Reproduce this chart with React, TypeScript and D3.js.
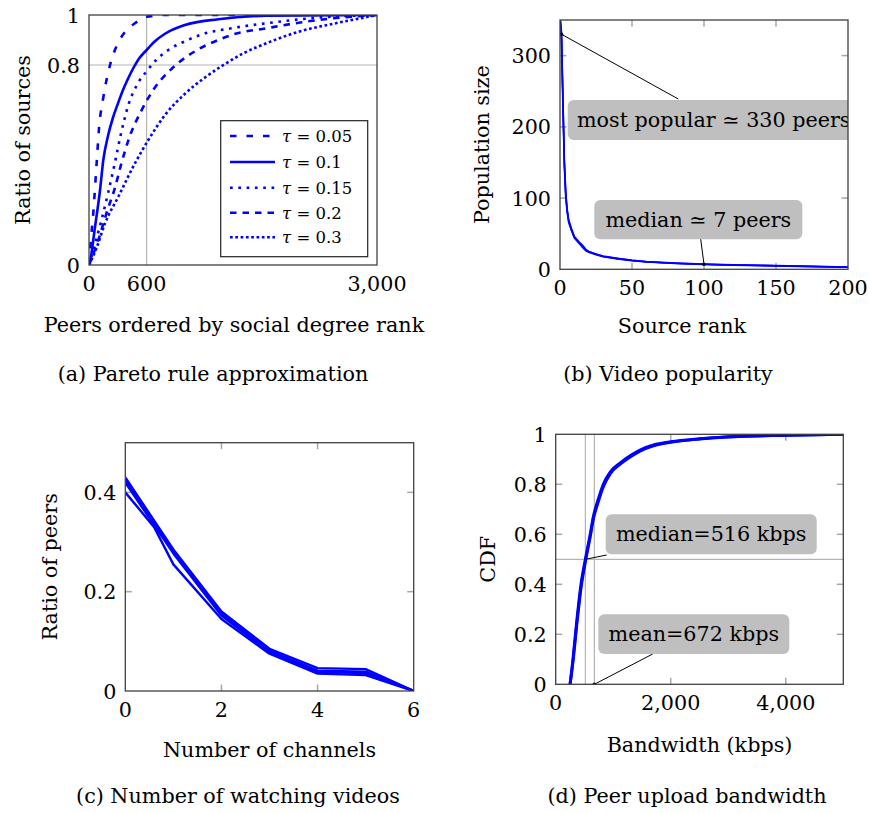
import React from 'react';
import * as d3 from 'd3';

const FONT = '"DejaVu Serif", serif';
const BLUE = '#0000ff';
const GRID = '#b4b4b4';
const FRAME = '#404040';
const TICK = '#a8a8a8';
const BOXFILL = '#bfbfbf';

// ---------- (a) Pareto rule approximation ----------
const paretoXTicks = [0, 600, 3000];
const paretoYTicks = [0, 0.8, 1];
const paretoTaus = ['0.05', '0.1', '0.15', '0.2', '0.3'];
const tau005: [number, number][] = [[0, 0], [20, 0.1], [45, 0.21], [80, 0.41], [105, 0.55], [149, 0.67], [219, 0.8], [260, 0.85], [305, 0.89], [380, 0.935], [479, 0.967], [600, 0.993], [800, 1], [3000, 1]];
const tau01: [number, number][] = [[0, 0], [10, 0.013], [62, 0.15], [115, 0.3], [149, 0.42], [200, 0.52], [250, 0.59], [305, 0.65], [354, 0.7], [400, 0.74], [458, 0.785], [520, 0.825], [600, 0.86], [687, 0.895], [792, 0.925], [1000, 0.96], [1347, 0.983], [1850, 0.997], [3000, 1]];
const tau015: [number, number][] = [[0, 0], [60, 0.08], [130, 0.18], [200, 0.29], [270, 0.41], [330, 0.52], [410, 0.64], [514, 0.73], [600, 0.775], [700, 0.82], [826, 0.86], [1000, 0.895], [1174, 0.922], [1500, 0.948], [1850, 0.967], [2400, 0.99], [3000, 1]];
const tau02: [number, number][] = [[0, 0], [97, 0.1], [184, 0.21], [271, 0.31], [340, 0.41], [420, 0.51], [549, 0.62], [687, 0.71], [861, 0.785], [1104, 0.855], [1347, 0.9], [1500, 0.922], [1851, 0.947], [2200, 0.97], [2545, 0.987], [3000, 1]];
const tau03: [number, number][] = [[0, 0], [80, 0.07], [167, 0.167], [305, 0.273], [479, 0.407], [618, 0.5], [792, 0.6], [1000, 0.685], [1208, 0.75], [1400, 0.8], [1600, 0.845], [1900, 0.895], [2200, 0.935], [2545, 0.965], [2800, 0.985], [3000, 1]];
const paretoSeries = [tau005, tau01, tau015, tau02, tau03];
const paretoDash = ['6.5,10', 'none', '2.7,5.6', '6.5,6', '2.7,2.6'];

// ---------- (b) Video popularity ----------
const rankXTicks = [0, 50, 100, 150, 200];
const popYTicks = [0, 100, 200, 300];
const sourceRank = [0, 1, 2, 3, 4, 5, 6, 8, 10, 13, 16, 18, 20, 25, 30, 40, 50, 60, 80, 100, 120, 150, 175, 200];
const popA = [355, 330, 240, 150, 105, 82, 68, 55, 45, 38, 32, 28, 25, 21, 18, 15, 12.5, 10.5, 8.5, 7, 6, 5, 4, 3];
const popB = [360, 325, 230, 145, 100, 80, 66, 54, 44, 37, 30, 26, 24, 20.5, 17.5, 14.5, 12, 10.2, 8.2, 6.8, 5.8, 4.8, 3.8, 2.8];
const popC = [350, 335, 245, 155, 108, 84, 70, 57, 46, 39, 33, 27, 24.5, 21.5, 18.5, 15.5, 12.8, 10.8, 8.7, 7.2, 6.2, 5.2, 4.2, 3.2];
const popularPeak = [1, 330];
const popularMedian = [100, 7];

// ---------- (c) Number of watching videos ----------
const chanXTicks = [0, 2, 4, 6];
const chanYTicks = [0, 0.2, 0.4];
const channels = [0, 1, 2, 3, 4, 5, 6];
const peersA = [0.43, 0.285, 0.16, 0.085, 0.046, 0.044, 0];
const peersB = [0.425, 0.28, 0.156, 0.081, 0.041, 0.039, 0];
const peersC = [0.42, 0.277, 0.152, 0.078, 0.038, 0.036, 0];
const channelsD = [0, 0.6, 1, 2, 3, 4, 5, 6];
const peersD = [0.40, 0.33, 0.255, 0.145, 0.075, 0.035, 0.032, 0];

// ---------- (d) Peer upload bandwidth ----------
const bwXTicks = [0, 2000, 4000];
const cdfYTicks = [0, 0.2, 0.4, 0.6, 0.8, 1];
const bandwidth = [250, 300, 365, 440, 516, 600, 654, 740, 828, 950, 1118, 1300, 1466, 1700, 2000, 2500, 3000, 4000, 5000];
const cdfA = [0, 0.1, 0.25, 0.4, 0.5, 0.6, 0.67, 0.74, 0.8, 0.85, 0.885, 0.915, 0.937, 0.957, 0.97, 0.982, 0.99, 0.996, 1];
const cdfB = [0, 0.09, 0.235, 0.385, 0.49, 0.59, 0.66, 0.73, 0.79, 0.843, 0.88, 0.91, 0.933, 0.954, 0.968, 0.981, 0.989, 0.996, 1];
const bwMedian = 516;
const bwMean = 672;

type Box = { l: number; r: number; t: number; b: number };
const boxA: Box = { l: 89, r: 377, t: 15, b: 265 };
const boxB: Box = { l: 560, r: 848, t: 20, b: 269.3 };
const boxC: Box = { l: 125.3, r: 413.7, t: 442.7, b: 691 };
const boxD: Box = { l: 555.7, r: 843.3, t: 434.3, b: 684.3 };

const FS = 20.7;

const Txt = (p: { x: number; y: number; children: any; anchor?: string; size?: number; rot?: boolean }) => (
  <text
    x={p.rot ? 0 : p.x}
    y={p.rot ? 0 : p.y}
    transform={p.rot ? `translate(${p.x},${p.y}) rotate(-90)` : undefined}
    textAnchor={p.anchor || 'middle'}
    fontSize={p.size || FS}
    fontFamily={FONT}
    fill="#000"
  >
    {p.children}
  </text>
);

function Clip({ box, id }: { box: Box; id: string }) {
  return (
    <defs>
      <clipPath id={id}>
        <rect x={box.l} y={box.t} width={box.r - box.l} height={box.b - box.t} />
      </clipPath>
    </defs>
  );
}

function Border({ box }: { box: Box }) {
  return <rect x={box.l} y={box.t} width={box.r - box.l} height={box.b - box.t} fill="none" stroke={FRAME} strokeWidth={1.3} />;
}

function InnerTicks({ box, xs, ys, xt, yt }: { box: Box; xs: any; ys: any; xt: number[]; yt: number[] }) {
  const L = 6.5;
  return (
    <g stroke={TICK} strokeWidth={1.5}>
      {xt.filter((v) => xs(v) > box.l + 1 && xs(v) < box.r - 1).map((v) => (
        <g key={'x' + v}>
          <line x1={xs(v)} x2={xs(v)} y1={box.b} y2={box.b - L} />
          <line x1={xs(v)} x2={xs(v)} y1={box.t} y2={box.t + L} />
        </g>
      ))}
      {yt.filter((v) => ys(v) > box.t + 1 && ys(v) < box.b - 1).map((v) => (
        <g key={'y' + v}>
          <line x1={box.l} x2={box.l + L} y1={ys(v)} y2={ys(v)} />
          <line x1={box.r} x2={box.r - L} y1={ys(v)} y2={ys(v)} />
        </g>
      ))}
    </g>
  );
}

function TickLabels({ box, xs, ys, xt, yt, xf, yf }: any) {
  return (
    <g>
      {xt.map((v: number) => (
        <Txt key={'xl' + v} x={xs(v)} y={box.b + 26}>{xf(v)}</Txt>
      ))}
      {yt.map((v: number) => (
        <Txt key={'yl' + v} x={box.l - 9} y={ys(v) + 7.5} anchor="end">{yf(v)}</Txt>
      ))}
    </g>
  );
}

export default function App() {
  const xa = d3.scaleLinear().domain([0, 3000]).range([boxA.l, boxA.r]);
  const ya = d3.scaleLinear().domain([0, 1]).range([boxA.b, boxA.t]);
  const xb = d3.scaleLinear().domain([0, 200]).range([boxB.l, boxB.r]);
  const yb = d3.scaleLinear().domain([0, 350]).range([boxB.b, boxB.t]);
  const xc = d3.scaleLinear().domain([0, 6]).range([boxC.l, boxC.r]);
  const yc = d3.scaleLinear().domain([0, 0.5]).range([boxC.b, boxC.t]);
  const xd = d3.scaleLinear().domain([0, 5000]).range([boxD.l, boxD.r]);
  const yd = d3.scaleLinear().domain([0, 1]).range([boxD.b, boxD.t]);

  const lineA = d3.line<[number, number]>().x((d) => xa(d[0])).y((d) => ya(d[1])).curve(d3.curveMonotoneX);
  const lineB = d3.line<[number, number]>().x((d) => xb(d[0])).y((d) => yb(d[1]));
  const lineC = d3.line<[number, number]>().x((d) => xc(d[0])).y((d) => yc(d[1]));
  const lineD = d3.line<[number, number]>().x((d) => xd(d[0])).y((d) => yd(d[1])).curve(d3.curveMonotoneX);

  const zip = (xs: number[], ys: number[]) => xs.map((x, i) => [x, ys[i]] as [number, number]);
  const comma = d3.format(',');
  const plain = (v: number) => String(v);

  const leg = { l: 220.7, t: 120.7, w: 147, h: 136 };
  const legRows = [136, 162, 187.7, 212.7, 237.3];

  return (
    <svg width={869} height={813} style={{ position: 'absolute', left: 0, top: 0, background: '#fff' }}>
      <Clip box={boxA} id="clipA" />
      <Clip box={boxB} id="clipB" />
      <Clip box={boxC} id="clipC" />
      <Clip box={boxD} id="clipD" />

      {/* ---------- (a) ---------- */}
      <g>
        <line x1={xa(600)} x2={xa(600)} y1={boxA.t} y2={boxA.b} stroke={GRID} strokeWidth={1.2} />
        <line x1={boxA.l} x2={boxA.r} y1={ya(0.8)} y2={ya(0.8)} stroke={GRID} strokeWidth={1.2} />
        <g clipPath="url(#clipA)">
          {paretoSeries.map((s, i) => (
            <path key={i} d={lineA(s) || ''} fill="none" stroke={BLUE} strokeWidth={2.6}
              strokeDasharray={paretoDash[i] === 'none' ? undefined : paretoDash[i]} />
          ))}
        </g>
        <Border box={boxA} />
        <rect x={leg.l} y={leg.t} width={leg.w} height={leg.h} fill="#fff" stroke="#222" strokeWidth={1.2} />
        {paretoTaus.map((t, i) => (
          <g key={t}>
            <line x1={230} x2={275} y1={legRows[i]} y2={legRows[i]} stroke={BLUE} strokeWidth={2.6}
              strokeDasharray={paretoDash[i] === 'none' ? undefined : paretoDash[i]} />
            <text x={282} y={legRows[i] + 6} fontSize={16.5} fontFamily={FONT}>
              <tspan fontStyle="italic">τ</tspan> = {t}
            </text>
          </g>
        ))}
        <TickLabels box={boxA} xs={xa} ys={ya} xt={paretoXTicks} yt={paretoYTicks} xf={comma} yf={plain} />
        <Txt x={29.5} y={(boxA.t + boxA.b) / 2} rot>Ratio of sources</Txt>
        <Txt x={234} y={332}>Peers ordered by social degree rank</Txt>
        <Txt x={213} y={381}>(a) Pareto rule approximation</Txt>
      </g>

      {/* ---------- (b) ---------- */}
      <g>
        <InnerTicks box={boxB} xs={xb} ys={yb} xt={rankXTicks} yt={popYTicks} />
        <g clipPath="url(#clipB)">
          {[popA, popB, popC].map((s, i) => (
            <path key={i} d={lineB(zip(sourceRank, s)) || ''} fill="none" stroke={BLUE} strokeWidth={1.6} />
          ))}
          <line x1={xb(popularPeak[0])} y1={yb(popularPeak[1])} x2={678.3} y2={99} stroke="#000" strokeWidth={1} />
          <rect x={567.7} y={100} width={320} height={40} rx={6} fill={BOXFILL} />
          <text x={577} y={127} fontSize={FS} fontFamily={FONT}>most popular ≃ 330 peers</text>
          <line x1={xb(popularMedian[0])} y1={yb(popularMedian[1])} x2={700.7} y2={239} stroke="#000" strokeWidth={1} />
          <rect x={594.3} y={200} width={208} height={39.3} rx={6} fill={BOXFILL} />
          <Txt x={698.3} y={227}>median ≃ 7 peers</Txt>
          <circle cx={xb(popularPeak[0])} cy={yb(popularPeak[1])} r={1.8} fill="#000" />
          <circle cx={xb(popularMedian[0])} cy={yb(popularMedian[1])} r={1.8} fill="#000" />
        </g>
        <Border box={boxB} />
        <TickLabels box={boxB} xs={xb} ys={yb} xt={rankXTicks} yt={popYTicks} xf={plain} yf={plain} />
        <Txt x={489} y={(boxB.t + boxB.b) / 2} rot>Population size</Txt>
        <Txt x={682} y={333}>Source rank</Txt>
        <Txt x={668} y={381}>(b) Video popularity</Txt>
      </g>

      {/* ---------- (c) ---------- */}
      <g>
        <InnerTicks box={boxC} xs={xc} ys={yc} xt={chanXTicks} yt={chanYTicks} />
        <g clipPath="url(#clipC)">
          {[peersA, peersB, peersC].map((s, i) => (
            <path key={i} d={lineC(zip(channels, s)) || ''} fill="none" stroke={BLUE} strokeWidth={2.4} strokeLinejoin="round" />
          ))}
          <path d={lineC(zip(channelsD, peersD)) || ''} fill="none" stroke={BLUE} strokeWidth={2.4} strokeLinejoin="round" />
        </g>
        <Border box={boxC} />
        <TickLabels box={boxC} xs={xc} ys={yc} xt={chanXTicks} yt={chanYTicks} xf={plain} yf={plain} />
        <Txt x={57} y={(boxC.t + boxC.b) / 2} rot>Ratio of peers</Txt>
        <Txt x={269.5} y={757}>Number of channels</Txt>
        <Txt x={238} y={803}>(c) Number of watching videos</Txt>
      </g>

      {/* ---------- (d) ---------- */}
      <g>
        <InnerTicks box={boxD} xs={xd} ys={yd} xt={bwXTicks} yt={cdfYTicks} />
        <line x1={xd(bwMedian)} x2={xd(bwMedian)} y1={boxD.t} y2={boxD.b} stroke={GRID} strokeWidth={1.2} />
        <line x1={xd(bwMean)} x2={xd(bwMean)} y1={boxD.t} y2={boxD.b} stroke={GRID} strokeWidth={1.2} />
        <line x1={boxD.l} x2={boxD.r} y1={yd(0.5)} y2={yd(0.5)} stroke={GRID} strokeWidth={1.2} />
        <g clipPath="url(#clipD)">
          {[cdfA, cdfB].map((s, i) => (
            <path key={i} d={lineD(zip(bandwidth, s)) || ''} fill="none" stroke={BLUE} strokeWidth={3} />
          ))}
          <line x1={xd(bwMedian)} y1={yd(0.5)} x2={606.7} y2={555} stroke="#000" strokeWidth={1} />
          <rect x={605.7} y={514.3} width={211} height={40} rx={6} fill={BOXFILL} />
          <Txt x={711.2} y={541}>median=516 kbps</Txt>
          <line x1={xd(bwMean)} y1={yd(0)} x2={652.7} y2={654} stroke="#000" strokeWidth={1} />
          <rect x={598.3} y={614.3} width={191} height={39.7} rx={6} fill={BOXFILL} />
          <Txt x={693.8} y={640.5}>mean=672 kbps</Txt>
          <circle cx={xd(bwMean)} cy={yd(0)} r={1.8} fill="#000" />
        </g>
        <Border box={boxD} />
        <TickLabels box={boxD} xs={xd} ys={yd} xt={bwXTicks} yt={cdfYTicks} xf={comma} yf={plain} />
        <Txt x={495} y={(boxD.t + boxD.b) / 2} rot>CDF</Txt>
        <Txt x={699.5} y={752}>Bandwidth (kbps)</Txt>
        <Txt x={687} y={803}>(d) Peer upload bandwidth</Txt>
      </g>
    </svg>
  );
}
